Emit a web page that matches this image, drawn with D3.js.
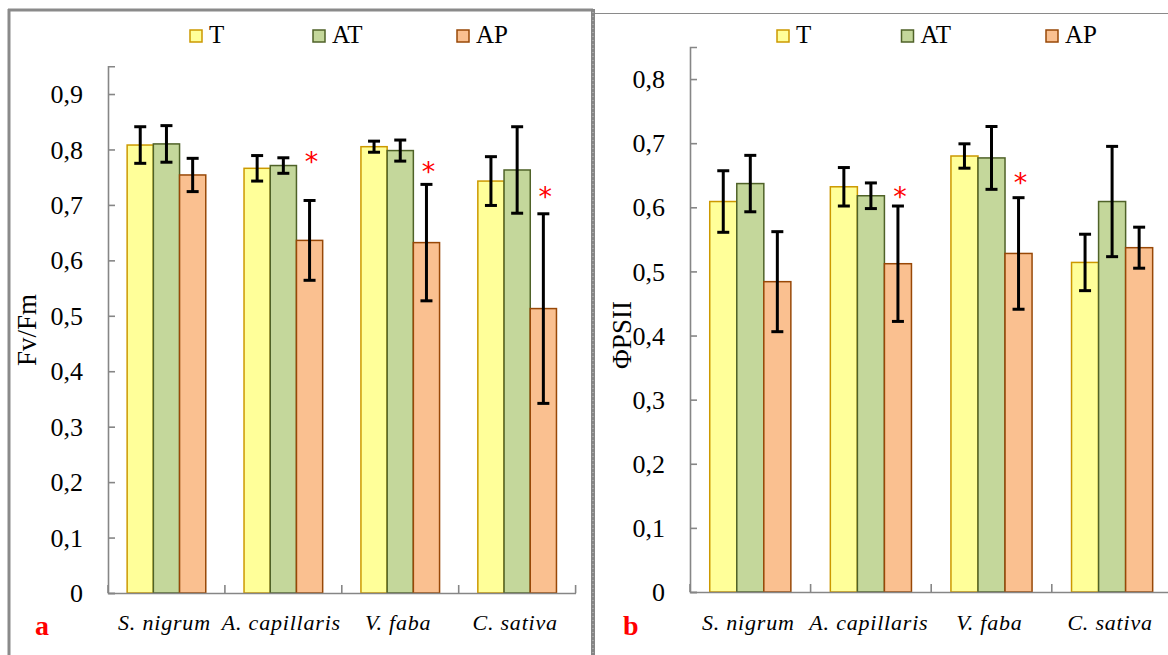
<!DOCTYPE html>
<html><head><meta charset="utf-8">
<script src="https://cdn.jsdelivr.net/npm/d3@7"></script>
<style>body{margin:0;background:#fff}svg{display:block}svg text{font-family:"Liberation Serif","Times New Roman",serif}</style>
</head><body>
<svg id="c" width="1168" height="655"></svg>
<script>
const categories = ["S. nigrum", "A. capillaris", "V. faba", "C. sativa"];
const seriesNames = ["T", "AT", "AP"];
const yTicksA = [0, 0.1, 0.2, 0.3, 0.4, 0.5, 0.6, 0.7, 0.8, 0.9];
const yTicksB = [0, 0.1, 0.2, 0.3, 0.4, 0.5, 0.6, 0.7, 0.8];

// Panel a: Fv/Fm
const aT  = [0.808, 0.766, 0.805, 0.743];
const aAT = [0.810, 0.771, 0.798, 0.763];
const aAP = [0.754, 0.636, 0.632, 0.513];
const aErrT  = [0.033, 0.023, 0.010, 0.044];
const aErrAT = [0.033, 0.014, 0.019, 0.078];
const aErrAP = [0.030, 0.072, 0.105, 0.171];
const aStarAP = [null, 0.785, 0.766, 0.721];

// Panel b: ΦPSII
const bT  = [0.609, 0.632, 0.680, 0.514];
const bAT = [0.637, 0.618, 0.677, 0.609];
const bAP = [0.484, 0.512, 0.528, 0.537];
const bErrT  = [0.048, 0.030, 0.019, 0.044];
const bErrAT = [0.044, 0.020, 0.049, 0.086];
const bErrAP = [0.078, 0.090, 0.087, 0.032];
const bStarAP = [null, 0.622, 0.644, null];

const fills = {T: "#FFFF99", AT: "#C4D79B", AP: "#FAC090"};
const strokes = {T: "#CC9900", AT: "#4F6228", AP: "#984807"};
const SERIF = "'Liberation Serif', 'Times New Roman', serif";

const svg = d3.select("#c");

// frames
svg.append("line").attr("x1", 9).attr("x2", 9).attr("y1", 9).attr("y2", 655).attr("stroke", "#8a8a8a").attr("stroke-width", 3);
svg.append("line").attr("x1", 8).attr("x2", 593).attr("y1", 10).attr("y2", 10).attr("stroke", "#8a8a8a").attr("stroke-width", 3);
svg.append("rect").attr("x", 591).attr("y", 9).attr("width", 4).attr("height", 646).attr("fill", "#858585");
svg.append("line").attr("x1", 593).attr("x2", 593).attr("y1", 12).attr("y2", 655).attr("stroke", "#c8c8c8").attr("stroke-width", 1).attr("stroke-dasharray", "1,3");
svg.append("line").attr("x1", 595).attr("x2", 1168).attr("y1", 13.5).attr("y2", 13.5).attr("stroke", "#8a8a8a").attr("stroke-width", 1.2);

function panel(cfg) {
  const g = svg.append("g");
  const y = d3.scaleLinear().domain([0, cfg.yMax]).range([cfg.y0, cfg.yTop]);
  const x = d3.scaleBand().domain(categories).range([cfg.x0, cfg.x1]).paddingInner(0).paddingOuter(0);
  const xs = d3.scaleBand().domain(seriesNames).range([0, x.bandwidth()]).paddingInner(0).paddingOuter(0.73);
  const vals = {T: cfg.T, AT: cfg.AT, AP: cfg.AP};
  const errs = {T: cfg.eT, AT: cfg.eAT, AP: cfg.eAP};

  // bars
  seriesNames.forEach(s => {
    g.selectAll(null).data(categories).enter().append("rect")
      .attr("x", (c) => x(c) + xs(s))
      .attr("y", (c, i) => y(vals[s][i]))
      .attr("width", xs.bandwidth())
      .attr("height", (c, i) => y(0) - y(vals[s][i]))
      .attr("fill", fills[s]).attr("stroke", strokes[s]).attr("stroke-width", 1.5);
  });

  // axes
  const ya = d3.axisLeft(y).tickValues(cfg.ticks).tickSize(-7).tickPadding(25)
    .tickFormat(d => d === 0 ? "0" : d3.format(".1f")(d).replace(".", ","));
  const yg = g.append("g").attr("transform", `translate(${cfg.x0},0)`).call(ya);
  yg.attr("font-family", null).attr("font-size", null);
  yg.select(".domain").attr("stroke", "#868686").attr("stroke-width", 1.6);
  yg.selectAll(".tick line").attr("stroke", "#868686").attr("stroke-width", 1.6);
  yg.selectAll(".tick text").style("font-size", "26px").style("font-family", SERIF).attr("fill", "#000")
    .attr("dy", "0.33em");

  const xa = d3.axisBottom(x).tickSize(0).tickFormat("");
  const xg = g.append("g").attr("transform", `translate(0,${cfg.y0})`).call(xa);
  xg.select(".domain").attr("stroke", "#868686").attr("stroke-width", 1.6);
  // category boundary ticks (pointing up)
  const bounds = categories.map(c => x(c)).concat([x(categories[categories.length - 1]) + x.bandwidth()]);
  g.selectAll(null).data(bounds).enter().append("line")
    .attr("x1", d => d).attr("x2", d => d).attr("y1", cfg.y0).attr("y2", cfg.y0 - 8)
    .attr("stroke", "#868686").attr("stroke-width", 1.6);

  // category labels
  g.selectAll(null).data(categories).enter().append("text")
    .attr("x", c => x(c) + x.bandwidth() / 2 - 2).attr("y", 630)
    .attr("text-anchor", "middle").style("font-size", "22px").style("font-style", "italic")
    .style("font-family", SERIF).attr("letter-spacing", 0.8).text(c => c);

  // error bars
  seriesNames.forEach(s => {
    const cx = c => x(c) + xs(s) + xs.bandwidth() / 2;
    const eg = g.selectAll(null).data(categories).enter().append("g");
    eg.append("line").attr("x1", cx).attr("x2", cx)
      .attr("y1", (c, i) => y(vals[s][i] + errs[s][i])).attr("y2", (c, i) => y(vals[s][i] - errs[s][i]))
      .attr("stroke", "#000").attr("stroke-width", 3);
    [1, -1].forEach(sg => {
      eg.append("line").attr("x1", c => cx(c) - 6).attr("x2", c => cx(c) + 6)
        .attr("y1", (c, i) => y(vals[s][i] + sg * errs[s][i])).attr("y2", (c, i) => y(vals[s][i] + sg * errs[s][i]))
        .attr("stroke", "#000").attr("stroke-width", 3);
    });
  });

  // significance asterisks
  g.selectAll(null).data(categories.map((c, i) => ({c, v: cfg.star[i]})).filter(d => d.v != null)).enter()
    .append("text")
    .attr("x", d => x(d.c) + xs("AP") + xs.bandwidth() / 2 + 2)
    .attr("y", d => y(d.v) + 13)
    .attr("text-anchor", "middle").style("font-size", "27px").attr("fill", "#ff0000")
    .style("font-family", "'DejaVu Sans', sans-serif").text("*");

  // legend
  seriesNames.forEach((s, i) => {
    const lx = cfg.legX[i];
    g.append("rect").attr("x", lx).attr("y", 30).attr("width", 12).attr("height", 12)
      .attr("fill", fills[s]).attr("stroke", strokes[s]).attr("stroke-width", 1.5);
    g.append("text").attr("x", lx + 19).attr("y", 43).style("font-size", "25px")
      .style("font-family", SERIF).text(s);
  });

  // y title
  g.append("text").attr("transform", `translate(${cfg.titleX},${cfg.titleY}) rotate(-90)`)
    .attr("text-anchor", "middle").style("font-size", "27px").style("font-family", SERIF).text(cfg.title);

  // panel letter
  g.append("text").attr("x", cfg.letterX).attr("y", 635).style("font-size", "28px")
    .style("font-weight", "bold").style("font-family", SERIF).attr("fill", "#ff0000").text(cfg.letter);
}

panel({x0: 108, x1: 575.6, y0: 593, yTop: 66.3, yMax: 0.95, ticks: yTicksA,
  T: aT, AT: aAT, AP: aAP, eT: aErrT, eAT: aErrAT, eAP: aErrAP, star: aStarAP,
  legX: [190, 313, 457], title: "Fv/Fm", titleX: 36, titleY: 330, letter: "a", letterX: 35});

panel({x0: 690, x1: 1172.4, y0: 592, yTop: 47, yMax: 0.85, ticks: yTicksB,
  T: bT, AT: bAT, AP: bAP, eT: bErrT, eAT: bErrAT, eAP: bErrAP, star: bStarAP,
  legX: [777, 901.5, 1046], title: "ΦPSII", titleX: 631, titleY: 335, letter: "b", letterX: 623});
</script>
</body></html>
